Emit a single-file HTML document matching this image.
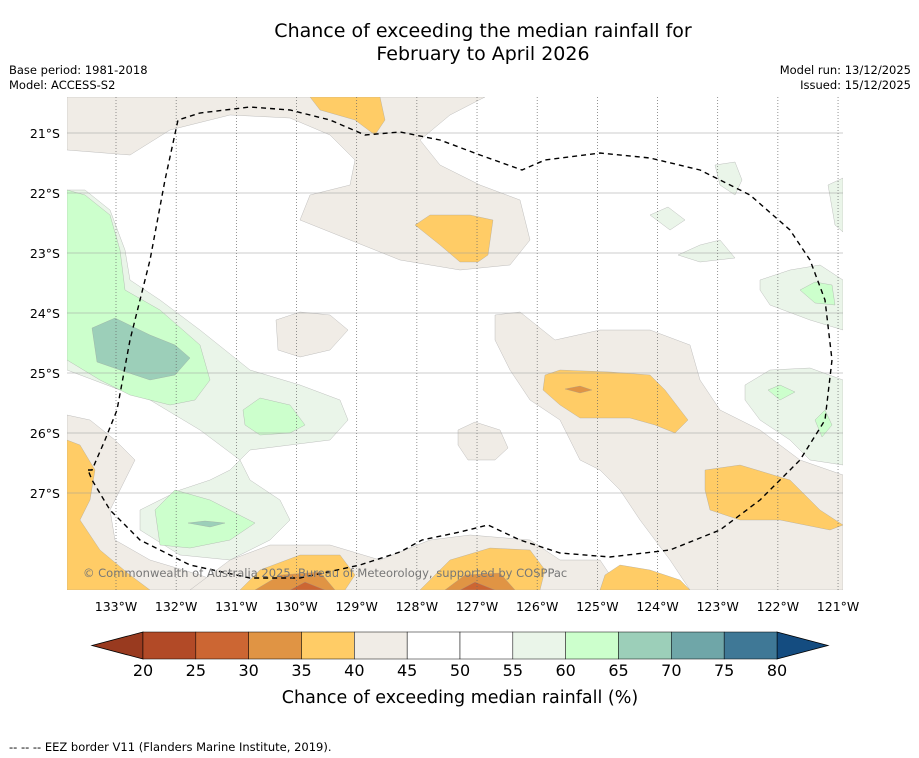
<!DOCTYPE html>
<html><head><meta charset="utf-8"><style>
body{margin:0;background:#fff;font-family:"DejaVu Sans","Liberation Sans",sans-serif}
#wrap{position:relative;width:919px;height:758px;overflow:hidden}
.t{position:absolute;white-space:nowrap;color:#000}
</style></head><body>
<div id="wrap">
<div class="t" style="left:0;width:966px;text-align:center;top:20px;font-size:19px;line-height:23px">Chance of exceeding the median rainfall for<br>February to April 2026</div>
<div class="t" style="left:9px;top:63px;font-size:11.5px;line-height:15px">Base period: 1981-2018<br>Model: ACCESS-S2</div>
<div class="t" style="right:8px;top:63px;font-size:11.5px;line-height:15px;text-align:right">Model run: 13/12/2025<br>Issued: 15/12/2025</div>
<div class="t" style="left:9px;top:740px;font-size:11.5px">--  --  -- EEZ border V11 (Flanders Marine Institute, 2019).</div>
<svg id="svg" width="919" height="758" style="position:absolute;left:0;top:0"></svg>
</div>
<script>
const lonTicks=[133,132,131,130,129,128,127,126,125,124,123,122,121];
const latTicks=[21,22,23,24,25,26,27];
const binEdges=[20,25,30,35,40,45,50,55,60,65,70,75,80];
const binColors=["#b24a27","#cc6633","#e09444","#ffcc66","#f0ece6","#ffffff","#ffffff","#eaf5e9","#ccffcc","#9ccfb9","#6fa6a8","#3f7896"];
const underColor="#993a1f", overColor="#144c80";
const FF='DejaVu Sans, Liberation Sans, sans-serif';
const NS="http://www.w3.org/2000/svg";
const svg=document.getElementById('svg');
const MX0=67,MX1=843,MY0=97,MY1=590;
function xLon(w){return 116+(133-w)*60.17;}
function yLat(s){return 133+(s-21)*60;}
function mk(t,a,p){const e=document.createElementNS(NS,t);for(const k in a)e.setAttribute(k,a[k]);(p||svg).appendChild(e);return e;}
const clip=mk('clipPath',{id:'mc'});mk('rect',{x:MX0,y:MY0,width:MX1-MX0,height:MY1-MY0},clip);
const g=mk('g',{'clip-path':'url(#mc)'});

const C={b:"#f0ece6",o:"#ffcc66",d:"#e09444",r:"#cc6633",lg:"#eaf5e9",gg:"#ccffcc",tl:"#9ccfb9"};
const shapes=[
["b","67,97 67,150 130,155 170,130 230,115 290,118 330,135 355,160 350,185 310,195 300,220 350,240 400,260 460,270 510,265 530,240 520,200 480,185 440,165 420,140 450,115 485,97"],
["b","495,315 520,312 555,340 600,330 650,330 690,345 700,380 720,410 760,430 800,460 843,475 843,590 690,590 670,560 640,520 620,490 600,470 580,460 560,420 530,400 510,370 495,340"],
["b","276,320 300,312 330,315 348,330 330,350 300,357 278,350"],
["b","458,430 475,422 500,430 508,448 495,460 468,460 458,445"],
["b","67,415 90,420 115,440 135,460 120,490 110,510 115,540 150,560 200,575 240,590 67,590"],
["b","190,590 230,560 270,545 330,545 380,560 430,540 470,535 530,540 560,560 600,560 620,590"],
["o","705,470 740,465 790,480 820,510 843,525 830,530 780,520 740,520 710,510 705,490"],
["o","545,375 560,370 610,372 650,375 665,390 688,420 675,433 655,425 630,418 580,418 560,405 543,390"],
["o","415,225 430,215 470,215 493,220 488,255 478,262 460,262 440,245"],
["o","310,97 380,97 385,120 375,135 355,120 320,110"],
["o","67,440 80,445 95,470 90,500 80,520 100,550 130,575 150,590 67,590"],
["o","240,590 260,570 300,555 340,555 355,575 345,590"],
["o","420,590 450,560 490,548 530,550 545,570 540,590"],
["o","605,575 620,565 650,570 680,580 690,590 600,590"],
["d","255,590 280,575 320,572 335,590"],["d","445,590 465,575 500,573 515,590"],
["r","290,590 305,582 325,590"],["r","460,590 475,582 495,590"],
["d","565,389 580,386 592,390 580,393"],
["lg","67,190 85,190 110,210 125,250 130,280 160,300 200,330 250,370 300,385 340,400 348,420 330,440 290,445 250,450 230,470 210,480 180,490 140,510 140,530 180,555 230,560 270,540 290,520 280,500 250,480 240,460 200,430 150,400 120,390 67,370"],
["gg","67,190 85,195 110,215 120,250 125,290 160,310 200,345 210,380 195,400 170,405 130,395 100,380 67,360"],
["tl","92,328 115,318 150,335 175,345 190,358 175,375 150,380 120,370 97,362"],
["gg","243,410 260,398 290,405 305,425 290,433 260,435 245,425"],
["gg","155,510 175,490 210,500 255,523 230,540 190,548 160,545"],
["tl","188,523 205,521 225,523 210,527"],
["lg","760,280 790,270 820,265 843,280 843,330 810,320 770,305 760,290"],
["gg","800,290 815,282 832,285 835,305 815,303"],
["lg","745,385 770,370 810,368 843,380 843,465 810,460 790,440 760,420 745,400"],
["gg","768,390 780,385 795,392 780,400"],["gg","815,420 825,410 832,425 822,437"],
["lg","828,185 843,178 843,232 835,225"],["lg","715,165 735,162 742,180 735,195 720,185"],
["lg","678,255 700,245 720,240 735,258 700,262"],["lg","650,215 668,207 685,220 670,230"]];
shapes.forEach((s,i)=>{const p=mk('polygon',{points:s[1],fill:C[s[0]],stroke:'#999','stroke-width':0.3},g);
});
lonTicks.forEach(w=>{const x=xLon(w);const l=mk('line',{x1:x,x2:x,y1:MY0,y2:MY1,stroke:'#666','stroke-width':0.7,'stroke-dasharray':'1,2'},g);

const t=mk('text',{x:x,y:611,'font-size':12.5,'text-anchor':'middle','font-family':FF});t.textContent=w+'°W';
});
latTicks.forEach(s=>{const y=yLat(s);const l=mk('line',{x1:MX0,x2:MX1,y1:y,y2:y,stroke:'#999','stroke-width':0.6},g);

const t=mk('text',{x:60,y:y+5,'font-size':12.5,'text-anchor':'end','font-family':FF});t.textContent=s+'°S';
});
const eez=mk('polyline',{points:"88,470 92,470 105,440 117,410 130,340 150,260 165,180 178,120 200,113 250,107 290,110 330,120 365,135 400,132 440,140 480,155 522,170 545,160 600,153 650,158 700,170 750,195 790,230 810,260 825,300 832,360 825,420 800,460 760,500 720,530 670,550 610,557 560,553 520,540 488,525 460,532 422,540 400,552 360,565 300,578 250,578 190,565 140,540 110,510 92,480 88,470",fill:'none',stroke:'#000','stroke-width':1.4,'stroke-dasharray':'5,4'},g);

const cp=mk('text',{x:83,y:577,'font-size':11.5,fill:'#777','font-family':FF},g);cp.textContent='© Commonwealth of Australia 2025, Bureau of Meteorology, supported by COSPPac';

const CB0=143,CB1=777,CBY=632,CBH=27;
function xv(v){return CB0+(v-binEdges[0])/(binEdges[binEdges.length-1]-binEdges[0])*(CB1-CB0);}
const un=mk('polygon',{points:`${CB0},${CBY} ${CB0},${CBY+CBH} 92,${CBY+CBH/2}`,fill:underColor,stroke:'#000','stroke-width':0.8});

const ov=mk('polygon',{points:`${CB1},${CBY} ${CB1},${CBY+CBH} 828,${CBY+CBH/2}`,fill:overColor,stroke:'#000','stroke-width':0.8});

binColors.forEach((c,i)=>{const x=xv(binEdges[i]);const r=mk('rect',{x:x,y:CBY,width:xv(binEdges[i+1])-x,height:CBH,fill:c,stroke:'#000','stroke-width':0.5});
});
binEdges.forEach(v=>{const t=mk('text',{x:xv(v),y:676,'font-size':16,'text-anchor':'middle','font-family':FF});t.textContent=v;
});
const ct=mk('text',{x:460,y:703,'font-size':17.5,'text-anchor':'middle','font-family':FF});ct.textContent='Chance of exceeding median rainfall (%)';

</script>
</body></html>
